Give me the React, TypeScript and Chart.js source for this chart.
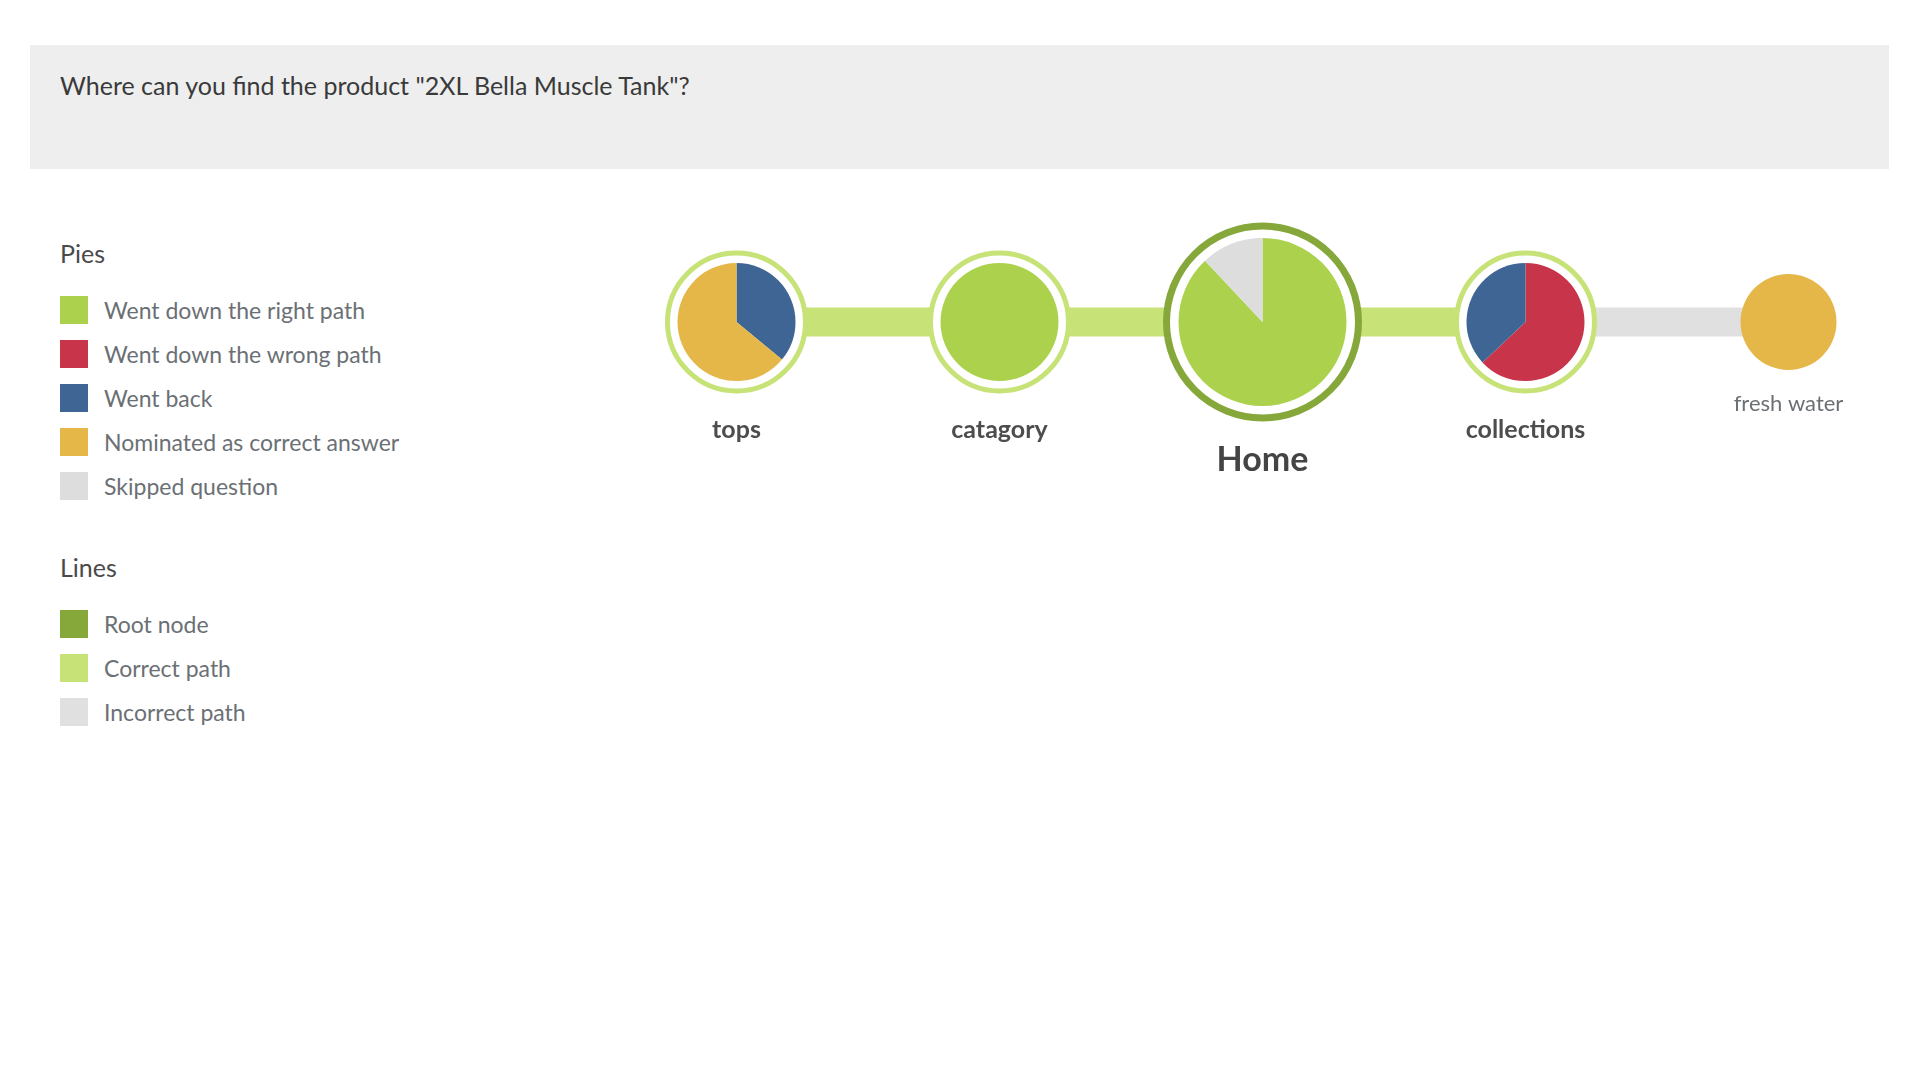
import React, { useEffect, useRef } from "react";
import { Chart, registerables } from "chart.js";

Chart.register(...registerables);

const COLORS = {
  right: "#acd24d",
  wrong: "#c8344a",
  back: "#3f6594",
  nominated: "#e5b748",
  skipped: "#dddddd",
  root: "#86a83b",
  correct: "#c7e277",
  incorrect: "#e0e0e0",
};

const nodeNames = ["tops", "catagory", "Home", "collections", "fresh water"];
const nodeRoot = [false, false, true, false, false];
const nodeRing = [true, true, true, true, false];
// slices start at 12 o'clock, clockwise
const nodeSlices: { key: keyof typeof COLORS; v: number }[][] = [
  [{ key: "back", v: 36 }, { key: "nominated", v: 64 }],
  [{ key: "right", v: 100 }],
  [{ key: "right", v: 88 }, { key: "skipped", v: 12 }],
  [{ key: "wrong", v: 63 }, { key: "back", v: 37 }],
  [{ key: "nominated", v: 100 }],
];
const edges: [number, number, keyof typeof COLORS][] = [
  [0, 1, "correct"],
  [1, 2, "correct"],
  [2, 3, "correct"],
  [3, 4, "incorrect"],
];

const pieLegend: [keyof typeof COLORS, string][] = [
  ["right", "Went down the right path"],
  ["wrong", "Went down the wrong path"],
  ["back", "Went back"],
  ["nominated", "Nominated as correct answer"],
  ["skipped", "Skipped question"],
];
const lineLegend: [keyof typeof COLORS, string][] = [
  ["root", "Root node"],
  ["correct", "Correct path"],
  ["incorrect", "Incorrect path"],
];

const FONT = "Lato, 'Open Sans', sans-serif";

const nodePlugin = {
  id: "nodes",
  afterDatasetsDraw(chart: any) {
    const { ctx, scales } = chart;
    ctx.save();
    nodeNames.forEach((name, i) => {
      const cx = scales.x.getPixelForValue(i);
      const cy = scales.y.getPixelForValue(0);
      const root = nodeRoot[i];
      const ringR = root ? 96 : 69;
      const pieR = !nodeRing[i] ? 48 : root ? 84 : 59;
      if (nodeRing[i]) {
        ctx.beginPath();
        ctx.arc(cx, cy, ringR, 0, Math.PI * 2);
        ctx.fillStyle = "#fff";
        ctx.fill();
        ctx.lineWidth = root ? 7 : 5;
        ctx.strokeStyle = root ? COLORS.root : COLORS.correct;
        ctx.stroke();
      }
      const total = nodeSlices[i].reduce((s, d) => s + d.v, 0);
      let a = -Math.PI / 2;
      nodeSlices[i].forEach((d) => {
        const b = a + (d.v / total) * Math.PI * 2;
        ctx.beginPath();
        ctx.moveTo(cx, cy);
        ctx.arc(cx, cy, pieR, a, b);
        ctx.closePath();
        ctx.fillStyle = COLORS[d.key];
        ctx.fill();
        a = b;
      });
      ctx.fillStyle = root ? "#444" : "#4d4d4d";
      ctx.textAlign = "center";
      ctx.textBaseline = "middle";
      if (!nodeRing[i]) {
        ctx.font = `400 22px ${FONT}`;
        ctx.fillStyle = "#6b7075";
        ctx.fillText(name, cx, cy + 82);
      } else if (root) {
        ctx.font = `700 34px ${FONT}`;
        ctx.fillText(name, cx, cy + 138);
      } else {
        ctx.font = `700 25px ${FONT}`;
        ctx.fillText(name, cx, cy + 108);
      }
    });
    ctx.restore();
  },
};

function LegendBlock({ title, items }: { title: string; items: [keyof typeof COLORS, string][] }) {
  return (
    <div style={{ marginBottom: 44 }}>
      <div style={{ fontSize: 25, color: "#4a4a4a", marginBottom: 20 }}>{title}</div>
      {items.map(([k, label]) => (
        <div key={label} style={{ display: "flex", alignItems: "center", height: 44 }}>
          <div style={{ width: 28, height: 28, background: COLORS[k], marginRight: 16 }} />
          <span style={{ fontSize: 23, color: "#6b7075" }}>{label}</span>
        </div>
      ))}
    </div>
  );
}

export default function App() {
  const canvasRef = useRef<HTMLCanvasElement | null>(null);

  useEffect(() => {
    const ctx = canvasRef.current?.getContext("2d");
    if (!ctx) return;
    const chart = new Chart(ctx, {
      type: "line",
      data: {
        datasets: edges.map(([a, b, k]) => ({
          data: [{ x: a, y: 0 }, { x: b, y: 0 }],
          borderColor: COLORS[k],
          borderWidth: 29,
          borderCapStyle: "butt" as const,
          pointRadius: 0,
          fill: false,
        })),
      },
      options: {
        animation: false,
        responsive: false,
        layout: { padding: 0 },
        plugins: { legend: { display: false }, tooltip: { enabled: false } },
        scales: {
          x: { type: "linear", min: -0.5, max: 4.5, display: false },
          y: { type: "linear", min: -1, max: 1, display: false },
        },
      },
      plugins: [nodePlugin],
    });
    return () => chart.destroy();
  }, []);

  return (
    <div style={{ position: "relative", width: 1920, height: 1080, fontFamily: FONT, background: "#fff", margin: -8 }}>
      <div
        style={{
          position: "absolute", left: 30, top: 45, width: 1859, height: 124,
          background: "#eeeeee", boxSizing: "border-box", padding: "25px 30px",
          fontSize: 25, color: "#3a3a3a",
        }}
      >
        Where can you find the product "2XL Bella Muscle Tank"?
      </div>
      <div style={{ position: "absolute", left: 60, top: 238 }}>
        <LegendBlock title="Pies" items={pieLegend} />
        <LegendBlock title="Lines" items={lineLegend} />
      </div>
      <canvas
        ref={canvasRef}
        width={1315}
        height={300}
        style={{ position: "absolute", left: 605, top: 172, width: 1315, height: 300 }}
      />
    </div>
  );
}
